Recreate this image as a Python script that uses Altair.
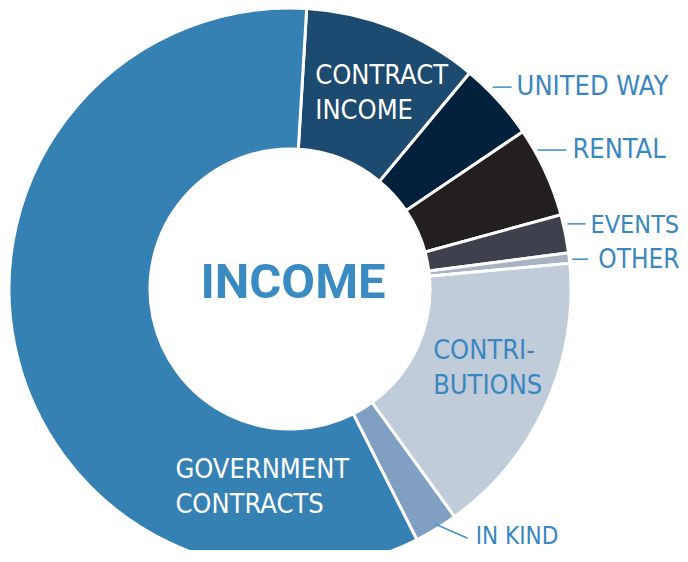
import math
import altair as alt
import pandas as pd

# ---- data ----
categories = ["CONTRACT INCOME", "UNITED WAY", "RENTAL", "EVENTS", "OTHER",
              "CONTRIBUTIONS", "IN KIND", "GOVERNMENT CONTRACTS"]
labels = ["CONTRACT\nINCOME", "UNITED WAY", "RENTAL", "EVENTS", "OTHER",
          "CONTRI-\nBUTIONS", "IN KIND", "GOVERNMENT\nCONTRACTS"]
shares = [10.1, 4.5, 5.2, 2.2, 0.6, 16.5, 2.5, 58.4]
colors = ["#1d4a6f", "#03213c", "#231f20", "#3e414b", "#a7b3c1",
          "#c1ccdb", "#7f9fc3", "#3681b4"]

df = pd.DataFrame({"category": categories, "label": labels, "share": shares})

CX, CY = 282, 281
R_OUT, R_IN = 281, 140
START = math.radians(3.4)
BLUE = "#3a87bf"
FONT = "DejaVu Sans Condensed, sans-serif"


def with_geometry(r):
    return (
        alt.Chart(df)
        .transform_window(idx="row_number()")
        .transform_window(cum="sum(share)", frame=[None, 0], sort=[alt.SortField("idx")])
        .transform_joinaggregate(total="sum(share)")
        .transform_calculate(
            mid=f"{START} + (datum.cum - datum.share / 2) / datum.total * 2 * PI"
        )
        .transform_calculate(
            ax=f"{CX} + {r} * sin(datum.mid)",
            ay=f"{CY} - {r} * cos(datum.mid)",
        )
    )


arcs = (
    alt.Chart(df)
    .transform_window(idx="row_number()")
    .mark_arc(radius=R_OUT, radius2=R_IN, stroke="white", strokeWidth=3)
    .encode(
        theta=alt.Theta("share:Q", stack=True,
                        scale=alt.Scale(range=[START, START + 2 * math.pi], nice=False)),
        color=alt.Color("category:N", scale=alt.Scale(domain=categories, range=colors),
                        legend=None),
        order=alt.Order("idx:Q"),
        x=alt.value(CX),
        y=alt.value(CY),
    )
)


def label_layer(cat, r, dx, dy, color, size=27):
    return (
        with_geometry(r)
        .transform_filter(alt.datum.category == cat)
        .transform_calculate(tx=f"datum.ax + {dx}", ty=f"datum.ay + {dy}")
        .mark_text(align="left", baseline="middle", font=FONT, fontSize=size,
                   color=color, lineBreak="\n", lineHeight=35)
        .encode(x=alt.X("tx:Q", scale=None), y=alt.Y("ty:Q", scale=None),
                text=alt.Text("label:N"))
    )


def leader_layer(cat, dx1, dy1, dx2, dy2):
    return (
        with_geometry(280)
        .transform_filter(alt.datum.category == cat)
        .transform_calculate(
            x1=f"datum.ax + {dx1}", y1=f"datum.ay + {dy1}",
            x2=f"datum.ax + {dx2}", y2=f"datum.ay + {dy2}",
        )
        .mark_rule(color="#4a94c8", strokeWidth=1.6)
        .encode(x=alt.X("x1:Q", scale=None), y=alt.Y("y1:Q", scale=None),
                x2="x2:Q", y2="y2:Q")
    )


layers = [arcs]
# internal labels (first-line centre offsets)
layers.append(label_layer("CONTRACT INCOME", 210, -52, -18, "white"))
layers.append(label_layer("CONTRIBUTIONS", 210, -48, -25, BLUE))
layers.append(label_layer("GOVERNMENT CONTRACTS", 210, 91, 138, "white"))
# external labels with leader lines
layers.append(leader_layer("UNITED WAY", -5, -14, 14, -14))
layers.append(label_layer("UNITED WAY", 280, 19, -14, BLUE))
layers.append(leader_layer("RENTAL", -7, -22, 22, -22))
layers.append(label_layer("RENTAL", 280, 28, -22, BLUE))
layers.append(leader_layer("EVENTS", 3, -10, 21, -10))
layers.append(label_layer("EVENTS", 280, 26, -9, BLUE, 25))
layers.append(leader_layer("OTHER", 4, 1, 20, 1))
layers.append(label_layer("OTHER", 280, 30, 2, BLUE, 26))
layers.append(leader_layer("IN KIND", 0, -4, 32, 10))
layers.append(label_layer("IN KIND", 280, 40, 9, BLUE, 24))

title = (
    alt.Chart(pd.DataFrame({"t": ["INCOME"]}))
    .mark_text(font="Roboto, sans-serif", fontSize=49, fontWeight="bold", color="#3a8bc2",
               align="center", baseline="middle")
    .encode(text="t:N", x=alt.value(CX + 3), y=alt.value(CY - 6))
)
layers.append(title)

chart = (
    alt.layer(*layers)
    .properties(width=672, height=542, padding=0,
                autosize=alt.AutoSizeParams(type="none"))
    .configure_view(stroke=None)
)

chart.save("out.html", embed_options={"renderer": "svg", "actions": False})
